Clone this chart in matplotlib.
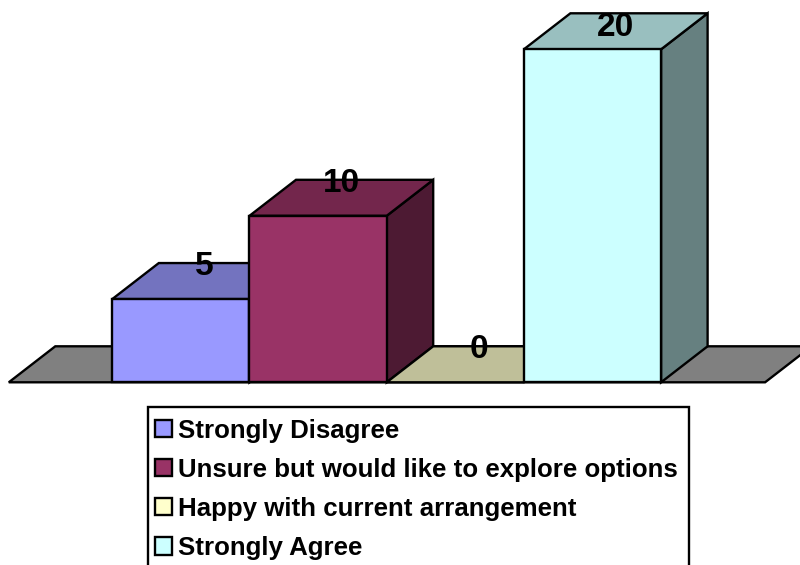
import matplotlib
matplotlib.use("Agg")
import matplotlib.pyplot as plt
from matplotlib.patches import Patch, Rectangle, Polygon

categories = ["Strongly Disagree", "Unsure but would like to explore options",
              "Happy with current arrangement", "Strongly Agree"]
values = [5, 10, 0, 20]
colors = ["#9999FF", "#993366", "#FFFFCC", "#CCFFFF"]
top_colors = ["#7373BF", "#73264C", "#BFBF99", "#99BFBF"]
side_colors = ["#4D4D80", "#4D1A33", "#808066", "#668080"]
floor_color = "#808080"

W, H = 800, 565
plt.rcParams["font.family"] = ["Liberation Sans", "DejaVu Sans"]
fig = plt.figure(figsize=(W / 100, H / 100), dpi=100)
ax = fig.add_axes([0, 0, 1, 1])

# pixel calibration of the scales
X0, PX_CAT = 112.3, 137.2
Y0, PX_VAL = 382.3, 16.65
ax.set_xlim(-X0 / PX_CAT, (W - X0) / PX_CAT)
ax.set_ylim((Y0 - H) / PX_VAL, Y0 / PX_VAL)
ax.axis("off")

dx, dy = 46.5 / PX_CAT, 36 / PX_VAL   # 3-D depth in data units
LW = 1.7
n = len(values)
edge = dict(edgecolor="black", linewidth=LW, joinstyle="miter")

# floor
fl, fr = -103.5 / PX_CAT, n + 104 / PX_CAT
ax.add_patch(Polygon([(fl, 0), (fr, 0), (fr + dx, dy), (fl + dx, dy)],
                     facecolor=floor_color, zorder=1, **edge))

for i, v in enumerate(values):
    l, r = i, i + 1
    z = 2 + i
    ax.add_patch(Polygon([(r, 0), (r + dx, dy), (r + dx, v + dy), (r, v)],
                         facecolor=side_colors[i], zorder=z, **edge))
    ax.add_patch(Polygon([(l, v), (r, v), (r + dx, v + dy), (l + dx, v + dy)],
                         facecolor=top_colors[i], zorder=z, **edge))
    if v > 0:
        ax.bar(i + 0.5, v, width=1, color=colors[i], zorder=z + 0.5, **edge)

# value labels, centred on the back top edge; kept inside the figure
ymax = ax.get_ylim()[1]
for i, v in enumerate(values):
    y = min(v + dy - 3.5 / PX_VAL, ymax - 27 / PX_VAL)
    ax.text(i + 0.5 + dx / 2, y, str(v), ha="center", va="center",
            fontsize=24, fontweight="bold", color="black", zorder=20)

# legend frame runs past the bottom of the figure
fig.add_artist(Rectangle((147.5 / W, 1 - 590 / H), 541 / W, 183 / H,
                         transform=fig.transFigure, facecolor="white",
                         edgecolor="black", linewidth=LW, zorder=5))
handles = [Patch(facecolor=c, edgecolor="black", linewidth=LW) for c in colors]
leg = fig.legend(handles, categories, loc="upper left",
                 bbox_to_anchor=(147.5 / W, 1 - 411 / H), frameon=False,
                 prop={"weight": "bold", "size": 18.65}, handlelength=0.66,
                 handleheight=0.66, handletextpad=0.23, labelspacing=0.585,
                 borderpad=0.29, borderaxespad=0, labelcolor="black")
leg.set_zorder(6)

fig.savefig("out.png", dpi=100, facecolor="white")
